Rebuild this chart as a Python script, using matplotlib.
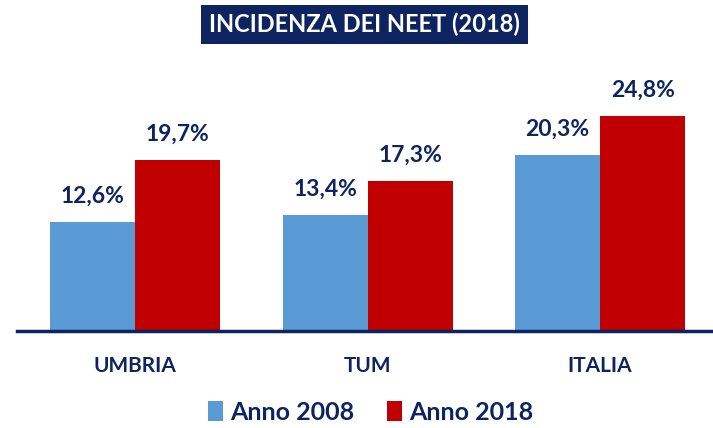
import numpy as np
import matplotlib.pyplot as plt
from matplotlib.patches import Patch

plt.rcParams['font.family'] = ['Lato', 'DejaVu Sans']

# data
categories = ["UMBRIA", "TUM", "ITALIA"]
anno_2008 = [12.6, 13.4, 20.3]
anno_2018 = [19.7, 17.3, 24.8]
series_names = ["Anno 2008", "Anno 2018"]

navy = "#0d2461"
blue = "#5b9bd5"
red = "#c00000"

fig = plt.figure(figsize=(7.13, 4.28), dpi=100)
ax = fig.add_axes([0.024, 0.2266, 0.976, 0.608])

x = np.arange(len(categories))
w = 0.366
b1 = ax.bar(x - w / 2, anno_2008, w, color=blue)
b2 = ax.bar(x + w / 2, anno_2018, w, color=red)

# value labels
for bars, vals in [(b1, anno_2008), (b2, anno_2018)]:
    for r, v in zip(bars, vals):
        ax.annotate(f"{v:.1f}%".replace(".", ","),
                    (r.get_x() + r.get_width() / 2, v),
                    xytext=(0, 11), textcoords="offset points",
                    ha="center", va="bottom", fontsize=16.5,
                    fontweight="bold", color=navy)

ax.set_xlim(-0.508, 2.486)
ax.set_ylim(0, 30)
ax.set_xticks(x)
ax.set_xticklabels(categories, fontsize=15, fontweight="bold", color=navy)
ax.tick_params(axis="x", length=0, pad=18)
ax.set_yticks([])
for s in ["top", "right", "left"]:
    ax.spines[s].set_visible(False)
ax.spines["bottom"].set_color(navy)
ax.spines["bottom"].set_linewidth(2.5)

# title box
fig.text(0.511, 0.943, "INCIDENZA DEI NEET (2018)", ha="center", va="center",
         fontsize=17, fontweight="bold", color="white",
         bbox=dict(boxstyle="square,pad=0.33", facecolor=navy, edgecolor="none"))

handles = [Patch(facecolor=blue), Patch(facecolor=red)]
fig.legend(handles, series_names, loc="center", bbox_to_anchor=(0.52, 0.037),
           ncol=2, frameon=False, handlelength=0.6, handleheight=0.9,
           handletextpad=0.3, columnspacing=1.3, labelcolor=navy,
           prop={"weight": "bold", "size": 18})

fig.savefig("out.png", dpi=100)
